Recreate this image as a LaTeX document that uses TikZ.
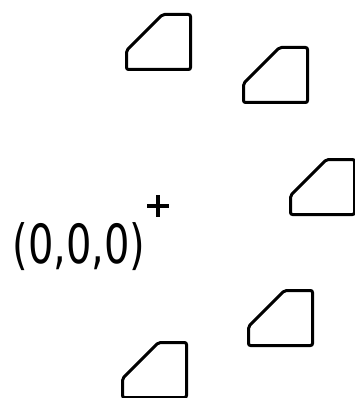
\documentclass[tikz,border=0pt]{standalone}
\usepackage{fontspec}
\newfontfamily\lblfont{DejaVu Sans}
\begin{document}
\begin{tikzpicture}[x=1pt,y=-1pt,
  cutbox/.style={draw=black,line width=3pt,rounded corners=2pt,line join=round},
  lbl/.style={font=\lblfont\fontsize{54}{54}\selectfont,inner sep=0pt,xscale=0.74},
  plusmark/.style={draw=black,line width=4pt}]
\useasboundingbox (0,0) rectangle (354,398);
\newcommand\cutshape[2]{%
  \draw[cutbox] (#1+36,#2) -- (#1+64,#2) -- (#1+64,#2+55) -- (#1,#2+55) -- (#1,#2+36) -- cycle;}
\cutshape{126.5}{14.5}
\cutshape{243.5}{47.5}
\cutshape{290.5}{159.5}
\cutshape{248.5}{290.5}
\cutshape{122.5}{342.5}
\coordinate (o) at (158,205.5);
\draw[plusmark] ([xshift=-11pt]o) -- ([xshift=11pt]o);
\draw[plusmark] ([yshift=-11pt]o) -- ([yshift=11pt]o);
\node[lbl,anchor=base] (lab) at (79,263) {(0,0,0)};
\end{tikzpicture}
\end{document}
